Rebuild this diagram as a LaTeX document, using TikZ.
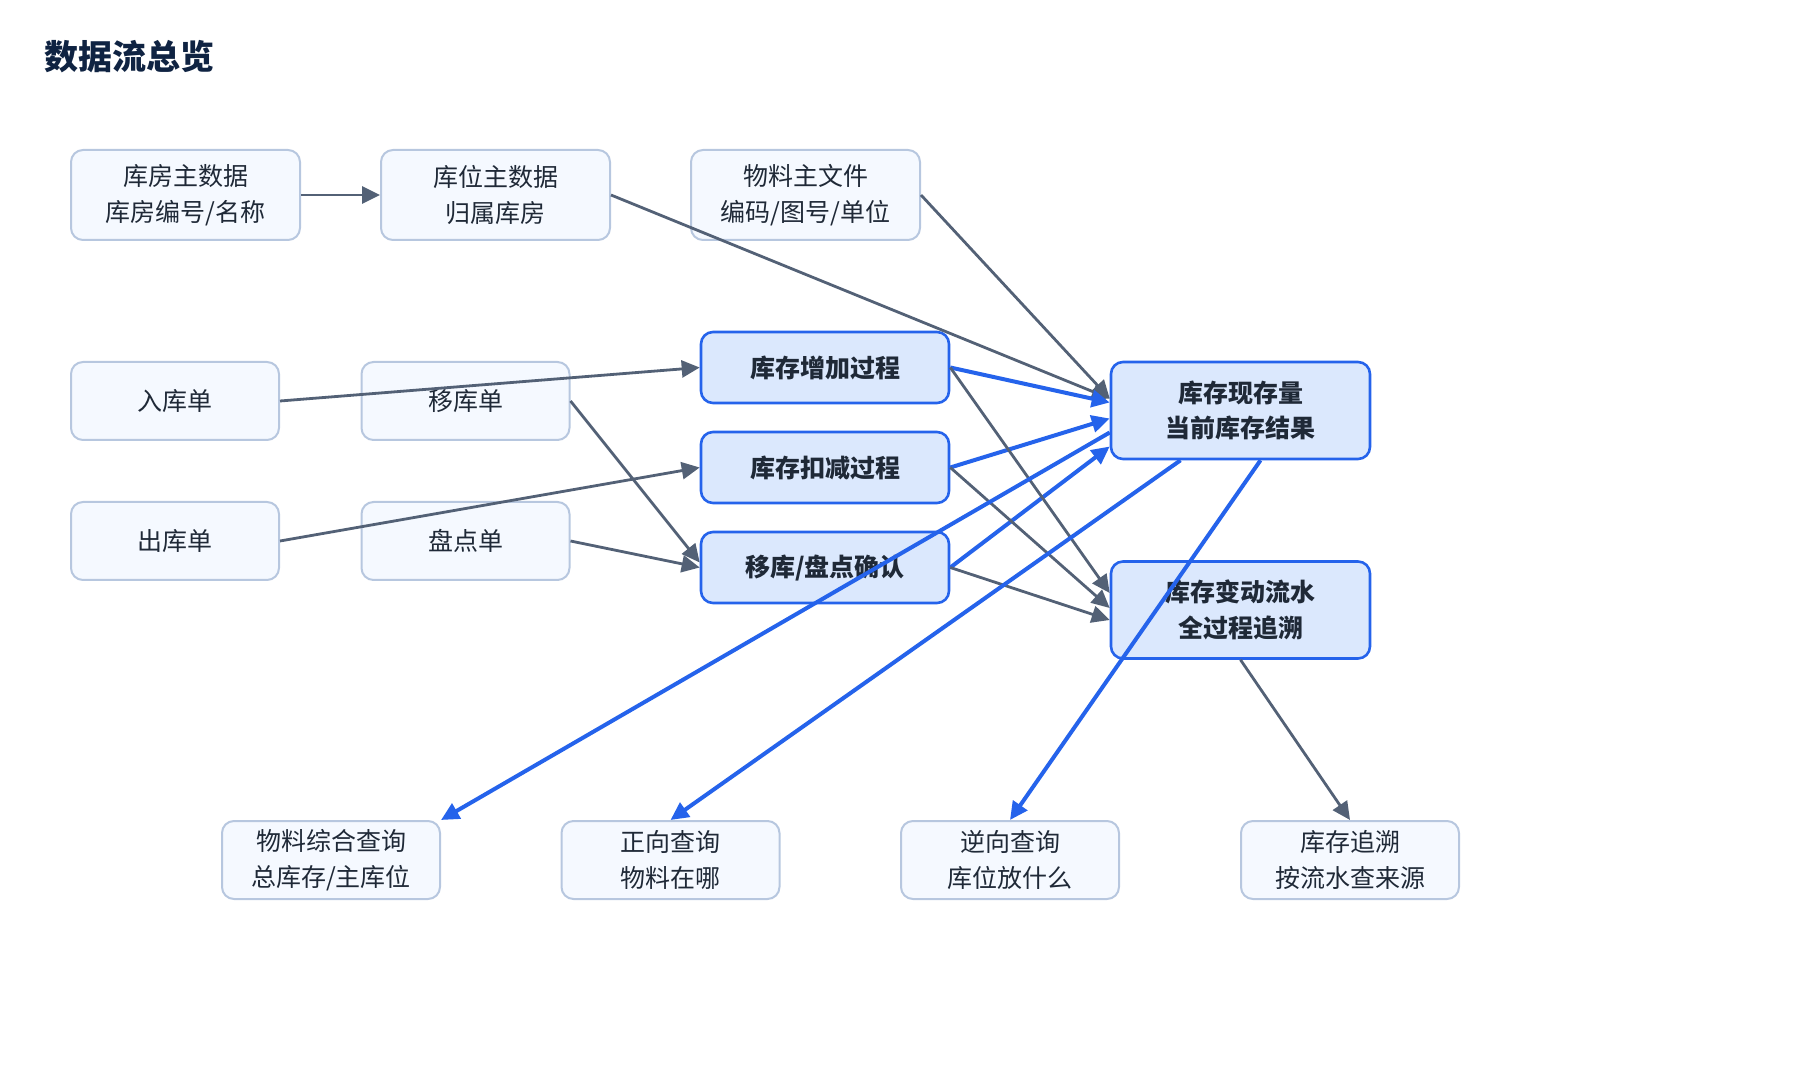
\documentclass[tikz,border=0pt]{standalone}
\usepackage{fontspec}
\setmainfont{Noto Sans CJK SC}
\usepackage{tikz}
\usetikzlibrary{arrows.meta}

\definecolor{boxfill}{HTML}{F5F9FF}
\definecolor{boxline}{HTML}{B7C7DF}
\definecolor{procfill}{HTML}{DBE8FD}
\definecolor{procline}{HTML}{2563EB}
\definecolor{inktext}{HTML}{1F2937}
\definecolor{titleink}{HTML}{0F2342}
\definecolor{grayarrow}{HTML}{536176}

\begin{document}
\begin{tikzpicture}[x=0.5pt, y=-0.5pt,
  src/.style={rectangle, draw=boxline, line width=1pt, fill=boxfill, rounded corners=6pt, text=inktext, align=center, font=\fontsize{12.5}{17.8}\selectfont, minimum width=114.5pt, minimum height=45pt},
  doc/.style={src, minimum width=104pt, minimum height=39pt},
  qry/.style={src, minimum width=109pt, minimum height=39pt},
  proc/.style={rectangle, draw=procline, line width=1.3pt, fill=procfill, rounded corners=6pt, text=inktext, align=center, font=\fontsize{12.5}{17.8}\selectfont\bfseries, minimum width=124pt, minimum height=35.5pt},
  store/.style={proc, minimum width=129.5pt, minimum height=48.5pt},
  feed/.style={draw=grayarrow, line width=1.4pt, -{Triangle[length=9pt,width=8.5pt]}},
  live/.style={draw=procline, line width=2pt, -{Triangle[length=9pt,width=8.5pt]}}]
\useasboundingbox (0,0) rectangle (1800,1080);

\node[anchor=west, inner sep=0pt, text=titleink, font=\fontsize{17}{20}\selectfont\bfseries] (title) at (44,57) {数据流总览};

% master data
\node[src] (whs) at (185.5,195) {库房主数据\\库房编号/名称};
\node[src, right of=whs, node distance=155pt] (loc) {库位主数据\\归属库房};
\node[src, right of=loc, node distance=155pt] (mat) {物料主文件\\编码/图号/单位};

% documents
\node[doc] (inb) at (175,401) {入库单};
\node[doc, below of=inb, node distance=70pt] (outb) {出库单};
\node[doc] (mov) at (465.5,401) {移库单};
\node[doc, below of=mov, node distance=70pt] (cnt) {盘点单};

% processes
\node[proc] (inc) at (825,367.5) {库存增加过程};
\node[proc, below of=inc, node distance=50pt] (dec) {库存扣减过程};
\node[proc, below of=dec, node distance=50pt] (cfm) {移库/盘点确认};

% results
\node[store] (onhand) at (1240.5,410.5) {库存现存量\\当前库存结果};
\node[store, below of=onhand, node distance=99.75pt] (flow) {库存变动流水\\全过程追溯};

% queries
\node[qry] (q1) at (331,860) {物料综合查询\\总库存/主库位};
\node[qry, right of=q1, node distance=169.75pt] (q2) {正向查询\\物料在哪};
\node[qry, right of=q2, node distance=169.75pt] (q3) {逆向查询\\库位放什么};
\node[qry, right of=q3, node distance=170pt] (q4) {库存追溯\\按流水查来源};

\draw[feed] (whs) -- (loc);
\draw[feed] (loc.east) -- ([yshift=6pt]onhand.west);
\draw[feed] (mat.east) -- ([yshift=6pt]onhand.west);
\draw[feed] (inb.east) -- (inc.west);
\draw[feed] (outb.east) -- (dec.west);
\draw[feed] (mov.east) -- ([yshift=2.5pt]cfm.west);
\draw[feed] (cnt.east) -- (cfm.west);

\draw[live] (inc.east) -- ([yshift=4pt]onhand.west);
\draw[live] (dec.east) -- ([yshift=-4pt]onhand.west);
\draw[live] (cfm.east) -- ([yshift=-18pt]onhand.west);
\draw[feed] (inc.east) -- ([yshift=8.5pt]flow.west);
\draw[feed] (dec.east) -- ([yshift=1pt]flow.west);
\draw[feed] (cfm.east) -- ([yshift=-5pt]flow.west);

\draw[live] ([yshift=-11pt]onhand.west) -- (q1.north east);
\draw[live] ([xshift=-30pt]onhand.south) -- (q2.north);
\draw[live] ([xshift=10pt]onhand.south) -- (q3.north);
\draw[feed] (flow.south) -- (q4.north);

\end{tikzpicture}
\end{document}
